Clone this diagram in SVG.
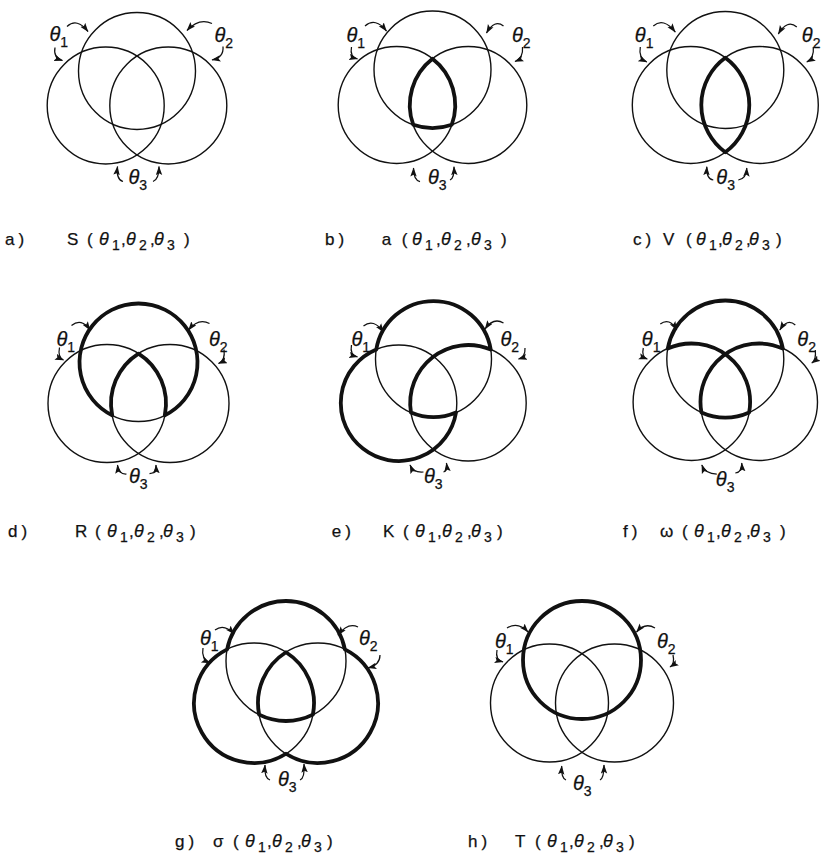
<svg xmlns="http://www.w3.org/2000/svg" width="825" height="856" viewBox="0 0 825 856">
<style>
.c{fill:none;stroke:#111;stroke-width:1.4}
.b{fill:none;stroke:#111;stroke-width:3.8;stroke-linejoin:round}
.ar{fill:none;stroke:#111;stroke-width:1.25;marker-end:url(#ah)}
.lb{font-family:"Liberation Sans",Arial,sans-serif;font-size:20px;font-style:italic;fill:#111;stroke:#111;stroke-width:0.25}
.sb{font-size:14px;font-style:normal}
.cap{font-family:"Liberation Sans",Arial,sans-serif;font-size:17px;fill:#111;stroke:#111;stroke-width:0.25}
.ct{font-style:italic;font-size:18px}
.cs{font-size:14px}
</style>
<defs>
<marker id="ah" markerWidth="10" markerHeight="8" refX="8.5" refY="3.5" orient="auto" markerUnits="userSpaceOnUse">
<path d="M0,0.3 L9,3.5 L0,6.7 L1.8,3.5 Z" fill="#111"/>
</marker>
</defs>
<rect width="825" height="856" fill="#fff"/>

<!-- Panel a -->
<g id="panel-a" transform="translate(137,105.5)">
<g id="a-circles"><circle class="c" cx="-31.3" cy="0" r="58.5"/><circle class="c" cx="31.3" cy="0" r="58.5"/><circle class="c" cx="0" cy="-34.5" r="58.5"/></g>
<g id="a-connectors">
<path class="ar" d="M-70,-79 Q-60,-88 -49,-74"/>
<path class="ar" d="M-82,-58 Q-84,-48 -74.5,-45"/>
<path class="ar" d="M75,-82 Q62,-88 50,-75"/>
<path class="ar" d="M86,-59 Q87,-48 75,-45.5"/>
<path class="ar" d="M-14,76 Q-21,74 -19.5,61"/>
<path class="ar" d="M16,76 Q22,74 22,61"/>
</g>
<g id="a-labels">
<text class="lb" x="-87.5" y="-65">θ<tspan class="sb" dy="6">1</tspan></text>
<text class="lb" x="77.5" y="-64">θ<tspan class="sb" dy="6">2</tspan></text>
<text class="lb" x="-8.5" y="78.5">θ<tspan class="sb" dy="6">3</tspan></text>
</g>
</g>
<text id="cap-a" class="cap" y="245"><tspan x="5" letter-spacing="4">a)</tspan><tspan x="67">S</tspan><tspan x="87">(</tspan><tspan class="ct" x="99">θ</tspan><tspan class="cs" x="112" dy="5">1</tspan><tspan x="121" dy="-5">,</tspan><tspan class="ct" x="126">θ</tspan><tspan class="cs" x="139" dy="5">2</tspan><tspan x="150" dy="-5">,</tspan><tspan class="ct" x="154">θ</tspan><tspan class="cs" x="167" dy="5">3</tspan><tspan x="184" dy="-5">)</tspan></text>

<!-- Panel b -->
<g id="panel-b" transform="translate(432.5,105)">
<g id="b-circles"><circle class="c" cx="-35.8" cy="0" r="58.5"/><circle class="c" cx="35.8" cy="0" r="58.5"/><circle class="c" cx="0" cy="-35.5" r="58.5"/></g>
<path class="b" d="M0,-46.27 A58.5,58.5 0 0 0 -19.27,19.73 A58.5,58.5 0 0 0 19.27,19.73 A58.5,58.5 0 0 0 0,-46.27 Z"/>
<g id="b-connectors">
<path class="ar" d="M-67.5,-79 Q-57,-88 -46,-74"/>
<path class="ar" d="M-81,-58 Q-83,-48 -75,-46"/>
<path class="ar" d="M71,-79 Q62,-86 54,-72"/>
<path class="ar" d="M90,-58 Q91,-47 82.5,-43.5"/>
<path class="ar" d="M-12.5,76.7 Q-19,75 -19,63"/>
<path class="ar" d="M17.5,75 Q22,73 21.5,61.7"/>
</g>
<g id="b-labels">
<text class="lb" x="-86" y="-63.5">θ<tspan class="sb" dy="6">1</tspan></text>
<text class="lb" x="79.5" y="-63.5">θ<tspan class="sb" dy="6">2</tspan></text>
<text class="lb" x="-4.5" y="79">θ<tspan class="sb" dy="6">3</tspan></text>
</g>
</g>
<text id="cap-b" class="cap" y="245"><tspan x="325" letter-spacing="4">b)</tspan><tspan x="381.7">a</tspan><tspan x="401.7">(</tspan><tspan class="ct" x="412">θ</tspan><tspan class="cs" x="425" dy="5">1</tspan><tspan x="436" dy="-5">,</tspan><tspan class="ct" x="441">θ</tspan><tspan class="cs" x="454" dy="5">2</tspan><tspan x="466" dy="-5">,</tspan><tspan class="ct" x="471">θ</tspan><tspan class="cs" x="484" dy="5">3</tspan><tspan x="501" dy="-5">)</tspan></text>

<!-- Panel c -->
<g id="panel-c" transform="translate(725.3,105)">
<g id="c-circles"><circle class="c" cx="-34.5" cy="0" r="58.5"/><circle class="c" cx="34.5" cy="0" r="58.5"/><circle class="c" cx="0" cy="-35" r="58.5"/></g>
<path class="b" d="M0,-47.24 A58.5,58.5 0 0 0 0,47.24 A58.5,58.5 0 0 0 0,-47.24 Z"/>
<g id="c-connectors">
<path class="ar" d="M-72,-79 Q-62,-88 -50,-73"/>
<path class="ar" d="M-85,-58 Q-87,-47 -78.5,-43"/>
<path class="ar" d="M71.5,-78 Q62,-86 53,-71"/>
<path class="ar" d="M88,-58 Q89,-47 81.5,-43"/>
<path class="ar" d="M-12,75 Q-19,74 -18.5,61.7"/>
<path class="ar" d="M13,75 Q21,74 21.5,63"/>
</g>
<g id="c-labels">
<text class="lb" x="-90.5" y="-63.5">θ<tspan class="sb" dy="6">1</tspan></text>
<text class="lb" x="76.5" y="-63.5">θ<tspan class="sb" dy="6">2</tspan></text>
<text class="lb" x="-9" y="79">θ<tspan class="sb" dy="6">3</tspan></text>
</g>
</g>
<text id="cap-c" class="cap" y="245"><tspan x="633" letter-spacing="4">c)</tspan><tspan x="663">V</tspan><tspan x="686">(</tspan><tspan class="ct" x="696">θ</tspan><tspan class="cs" x="709" dy="5">1</tspan><tspan x="718" dy="-5">,</tspan><tspan class="ct" x="722">θ</tspan><tspan class="cs" x="735" dy="5">2</tspan><tspan x="746" dy="-5">,</tspan><tspan class="ct" x="749">θ</tspan><tspan class="cs" x="762" dy="5">3</tspan><tspan x="776" dy="-5">)</tspan></text>

<!-- Panel d -->
<g id="panel-d" transform="translate(138.5,403.5)">
<g id="d-circles"><circle class="c" cx="-31.5" cy="0" r="59"/><circle class="c" cx="31.5" cy="0" r="59"/><circle class="c" cx="0" cy="-41" r="59"/></g>
<path class="b" d="M26.3,11.81 A59,59 0 1 0 -26.3,11.81 A59,59 0 0 1 0,-49.89 A59,59 0 0 1 26.3,11.81 Z"/>
<g id="d-connectors">
<path class="ar" d="M-67,-78 Q-57,-86 -48.5,-73.5"/>
<path class="ar" d="M-79,-56 Q-81,-46 -75,-43.5"/>
<path class="ar" d="M71,-80 Q60,-86 50,-73.5"/>
<path class="ar" d="M85.5,-54 Q87,-43 80,-40"/>
<path class="ar" d="M-12,70.5 Q-20,71 -21,61.5"/>
<path class="ar" d="M11,70 Q18,70 17.5,61.5"/>
</g>
<g id="d-labels">
<text class="lb" x="-82" y="-58">θ<tspan class="sb" dy="6">1</tspan></text>
<text class="lb" x="70.5" y="-58">θ<tspan class="sb" dy="6">2</tspan></text>
<text class="lb" x="-9.5" y="79.5">θ<tspan class="sb" dy="6">3</tspan></text>
</g>
</g>
<text id="cap-d" class="cap" y="537"><tspan x="8" letter-spacing="4">d)</tspan><tspan x="75">R</tspan><tspan x="95">(</tspan><tspan class="ct" x="107">θ</tspan><tspan class="cs" x="120" dy="5">1</tspan><tspan x="129" dy="-5">,</tspan><tspan class="ct" x="134">θ</tspan><tspan class="cs" x="147" dy="5">2</tspan><tspan x="159" dy="-5">,</tspan><tspan class="ct" x="163">θ</tspan><tspan class="cs" x="176" dy="5">3</tspan><tspan x="190" dy="-5">)</tspan></text>

<!-- Panel e -->
<g id="panel-e" transform="translate(433.5,403)">
<g id="e-circles"><circle class="c" cx="-34.7" cy="0" r="58"/><circle class="c" cx="34.7" cy="0" r="58"/><circle class="c" cx="0" cy="-44" r="58"/></g>
<path class="b" d="M-57.22,-53.44 A58,58 0 0 1 57.22,-53.44 A58,58 0 0 0 -22.52,9.44 A58,58 0 0 0 22.52,9.44 A58,58 0 1 1 -57.22,-53.44 Z"/>
<g id="e-connectors">
<path class="ar" d="M-70,-77 Q-60,-85 -50,-71"/>
<path class="ar" d="M-82,-58 Q-84,-48 -76,-46"/>
<path class="ar" d="M70,-80 Q60,-86 51.5,-74"/>
<path class="ar" d="M91.5,-55 Q92,-46 85,-44"/>
<path class="ar" d="M-10,69 Q-20,70 -23.5,62"/>
<path class="ar" d="M10,69 Q14,68 13,60"/>
</g>
<g id="e-labels">
<text class="lb" x="-82" y="-57.5">θ<tspan class="sb" dy="6">1</tspan></text>
<text class="lb" x="67" y="-57.5">θ<tspan class="sb" dy="6">2</tspan></text>
<text class="lb" x="-9.5" y="79.5">θ<tspan class="sb" dy="6">3</tspan></text>
</g>
</g>
<text id="cap-e" class="cap" y="537"><tspan x="331.7" letter-spacing="4">e)</tspan><tspan x="383">K</tspan><tspan x="403">(</tspan><tspan class="ct" x="415">θ</tspan><tspan class="cs" x="428" dy="5">1</tspan><tspan x="437" dy="-5">,</tspan><tspan class="ct" x="442">θ</tspan><tspan class="cs" x="455" dy="5">2</tspan><tspan x="467" dy="-5">,</tspan><tspan class="ct" x="471">θ</tspan><tspan class="cs" x="484" dy="5">3</tspan><tspan x="497" dy="-5">)</tspan></text>

<!-- Panel f -->
<g id="panel-f" transform="translate(725.3,402)">
<g id="f-circles"><circle class="c" cx="-33.7" cy="0" r="58.5"/><circle class="c" cx="33.7" cy="0" r="58.5"/><circle class="c" cx="0" cy="-43" r="58.5"/></g>
<path class="b" d="M-57.57,-53.41 A58.5,58.5 0 0 1 57.57,-53.41 A58.5,58.5 0 0 0 -23.87,10.41 A58.5,58.5 0 0 0 23.87,10.41 A58.5,58.5 0 0 0 -57.57,-53.41 Z"/>
<g id="f-connectors">
<path class="ar" d="M-65,-78 Q-56,-85 -48.5,-72"/>
<path class="ar" d="M-82,-54 Q-84,-45 -78,-43"/>
<path class="ar" d="M70,-77 Q62,-84 54.5,-72"/>
<path class="ar" d="M90,-52 Q91,-42 86.5,-39"/>
<path class="ar" d="M-8.5,72 Q-20,72 -23.5,63"/>
<path class="ar" d="M10,71 Q17,70 16.5,61"/>
</g>
<g id="f-labels">
<text class="lb" x="-83.5" y="-56.5">θ<tspan class="sb" dy="6">1</tspan></text>
<text class="lb" x="72" y="-56.5">θ<tspan class="sb" dy="6">2</tspan></text>
<text class="lb" x="-9.5" y="83.5">θ<tspan class="sb" dy="6">3</tspan></text>
</g>
</g>
<text id="cap-f" class="cap" y="537"><tspan x="623" letter-spacing="4">f)</tspan><tspan x="660">ω</tspan><tspan x="682">(</tspan><tspan class="ct" x="694">θ</tspan><tspan class="cs" x="707" dy="5">1</tspan><tspan x="716" dy="-5">,</tspan><tspan class="ct" x="721">θ</tspan><tspan class="cs" x="734" dy="5">2</tspan><tspan x="746" dy="-5">,</tspan><tspan class="ct" x="750">θ</tspan><tspan class="cs" x="763" dy="5">3</tspan><tspan x="780" dy="-5">)</tspan></text>

<!-- Panel g -->
<g id="panel-g" transform="translate(286,703)">
<g id="g-circles"><circle class="c" cx="-32" cy="0" r="60"/><circle class="c" cx="32" cy="0" r="60"/><circle class="c" cx="0" cy="-42" r="60"/></g>
<path class="b" d="M-58.86,-53.66 A60,60 0 0 1 58.86,-53.66 A60,60 0 1 1 0,50.75 A60,60 0 1 1 -58.86,-53.66 Z"/>
<path class="b" d="M0,-50.75 A60,60 0 0 0 -26.86,11.66 A60,60 0 0 0 26.86,11.66 A60,60 0 0 0 0,-50.75 Z"/>
<g id="g-connectors">
<path class="ar" d="M-71,-73 Q-62,-80 -52,-69"/>
<path class="ar" d="M-83,-55 Q-85,-44 -76,-40"/>
<path class="ar" d="M72,-76 Q62,-81 52,-68"/>
<path class="ar" d="M94,-48 Q94,-38 82,-35"/>
<path class="ar" d="M-16,77 Q-22,75 -21,62"/>
<path class="ar" d="M14,77 Q19,75 18,61"/>
</g>
<g id="g-labels">
<text class="lb" x="-86" y="-58.5">θ<tspan class="sb" dy="6">1</tspan></text>
<text class="lb" x="73" y="-58.5">θ<tspan class="sb" dy="6">2</tspan></text>
<text class="lb" x="-8" y="82.5">θ<tspan class="sb" dy="6">3</tspan></text>
</g>
</g>
<text id="cap-g" class="cap" y="847"><tspan x="175" letter-spacing="4">g)</tspan><tspan x="213">σ</tspan><tspan x="233">(</tspan><tspan class="ct" x="245">θ</tspan><tspan class="cs" x="258" dy="5">1</tspan><tspan x="267" dy="-5">,</tspan><tspan class="ct" x="272">θ</tspan><tspan class="cs" x="285" dy="5">2</tspan><tspan x="297" dy="-5">,</tspan><tspan class="ct" x="301">θ</tspan><tspan class="cs" x="314" dy="5">3</tspan><tspan x="327" dy="-5">)</tspan></text>

<!-- Panel h -->
<g id="panel-h" transform="translate(582,703)">
<g id="h-circles"><circle class="c" cx="-32.5" cy="0" r="59"/><circle class="c" cx="32.5" cy="0" r="59"/></g>
<circle class="b" cx="0" cy="-43" r="59"/>
<g id="h-connectors">
<path class="ar" d="M-75,-75 Q-64,-82 -54,-71"/>
<path class="ar" d="M-85,-53 Q-87,-43 -79,-41"/>
<path class="ar" d="M73,-75 Q63,-81 54.5,-71"/>
<path class="ar" d="M91,-48 Q93,-39 88,-36"/>
<path class="ar" d="M-16,77 Q-21,75 -20.3,63"/>
<path class="ar" d="M18,77 Q22,75 22,62"/>
</g>
<g id="h-labels">
<text class="lb" x="-87" y="-55">θ<tspan class="sb" dy="6">1</tspan></text>
<text class="lb" x="75" y="-55">θ<tspan class="sb" dy="6">2</tspan></text>
<text class="lb" x="-9" y="86.5">θ<tspan class="sb" dy="6">3</tspan></text>
</g>
</g>
<text id="cap-h" class="cap" y="847"><tspan x="468" letter-spacing="4">h)</tspan><tspan x="515">T</tspan><tspan x="535">(</tspan><tspan class="ct" x="547">θ</tspan><tspan class="cs" x="560" dy="5">1</tspan><tspan x="569" dy="-5">,</tspan><tspan class="ct" x="574">θ</tspan><tspan class="cs" x="587" dy="5">2</tspan><tspan x="599" dy="-5">,</tspan><tspan class="ct" x="603">θ</tspan><tspan class="cs" x="616" dy="5">3</tspan><tspan x="629" dy="-5">)</tspan></text>
</svg>
